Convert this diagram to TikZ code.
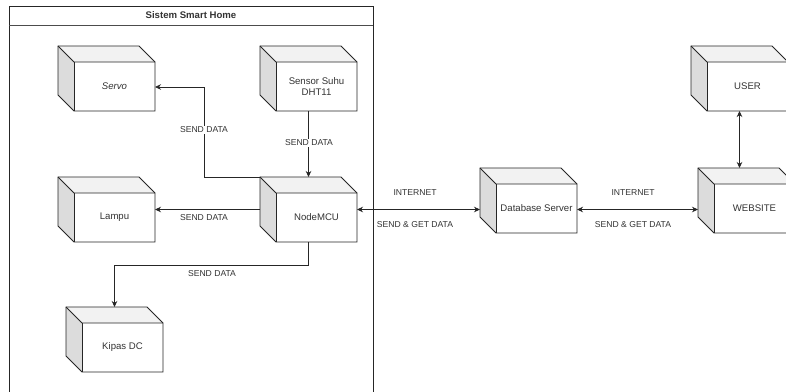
\documentclass[tikz,border=0pt]{standalone}
\usepackage{fontspec}
\setmainfont{Liberation Sans}
\usetikzlibrary{arrows.meta,calc}
\definecolor{txt}{HTML}{333333}
\definecolor{lft}{HTML}{DCDCDC}
\definecolor{tp}{HTML}{F2F2F2}
\tikzset{
  cubebb/.style={rectangle,minimum width=97pt,minimum height=65pt,inner sep=0pt,outer sep=0pt,draw=none},
  boxtxt/.style={text=txt,font=\fontsize{9.6}{11.5}\selectfont,align=center,inner sep=1pt},
  lbl/.style={text=txt,font=\fontsize{8.6}{10}\selectfont,inner sep=1pt},
  lblbg/.style={lbl,fill=white},
  conn/.style={line width=0.8pt,draw=black!85,-{Stealth[length=6pt,width=5.5pt]}},
  conn2/.style={line width=0.8pt,draw=black!85,{Stealth[length=6pt,width=5.5pt]}-{Stealth[length=6pt,width=5.5pt]}},
  cubeline/.style={line width=0.8pt,draw=black!85,line join=miter},
}
\newcommand\cubebox[4]{%
  \node[cubebb] (#1) at (#2+48.5,#3+32.5) {};
  \fill[white] (#2+16,#3+16) rectangle (#2+97,#3+65);
  \fill[tp] (#2,#3) -- (#2+81,#3) -- (#2+97,#3+16) -- (#2+16,#3+16) -- cycle;
  \fill[lft] (#2,#3) -- (#2+16,#3+16) -- (#2+16,#3+65) -- (#2,#3+49) -- cycle;
  \draw[cubeline] (#2,#3) -- (#2+81,#3) -- (#2+97,#3+16) -- (#2+97,#3+65) -- (#2+16,#3+65) -- (#2,#3+49) -- cycle;
  \draw[cubeline] (#2,#3) -- (#2+16,#3+16) -- (#2+97,#3+16);
  \draw[cubeline] (#2+16,#3+16) -- (#2+16,#3+65);
  \node[boxtxt] (#1-t) at (#2+56.5,#3+40.5) {#4};
}
\begin{document}
\begin{tikzpicture}[x=1pt,y=-1pt]
\useasboundingbox (0,0) rectangle (786,391);
\clip (0,0) rectangle (786,391);
\fill[white] (0,0) rectangle (786,391);
% container
\draw[line width=0.8pt,draw=black!85] (9,6) rectangle (373,420);
\draw[line width=0.8pt,draw=black!70] (9,25) -- (373,25);
\node[text=txt,font=\bfseries\fontsize{9.6}{11.5}\selectfont] (title) at (191,15.5) {Sistem Smart Home};
% cubes
\cubebox{servo}{58}{46}{\itshape Servo}
\cubebox{sensor}{260}{46}{Sensor Suhu\\DHT11}
\cubebox{lampu}{58}{177}{Lampu}
\cubebox{node}{260}{177}{NodeMCU}
\cubebox{kipas}{66}{307}{Kipas DC}
\cubebox{db}{480}{168}{Database Server}
\cubebox{web}{698}{168}{WEBSITE}
\cubebox{user}{691}{46}{USER}
\coordinate (servoE) at (155,87);
% connectors
\draw[conn] (sensor.south) -- (node.north);
\draw[conn] (node.north west) -- ++(-56,0) |- (servoE);
\draw[conn] (node.west) -- (lampu.east);
\draw[conn] (node.south) -- ++(0,23) -| (kipas.north);
\draw[conn2] (node.east) -- (node.east -| db.west);
\draw[conn2] (db.east |- node.east) -- (web.west |- node.east);
\draw[conn2] (user.south) -- (user.south |- web.north);
% labels
\node[lblbg] (l1) at (309,143) {SEND DATA};
\node[lblbg] (l2) at (204,130) {SEND DATA};
\node[lbl] (l3) at (204,217.5) {SEND DATA};
\node[lbl] (l4) at (212,274) {SEND DATA};
\node[lbl] (l5) at (415,193) {INTERNET};
\node[lbl] (l6) at (415,225) {SEND \& GET DATA};
\node[lbl] (l7) at (633,193) {INTERNET};
\node[lbl] (l8) at (633,225) {SEND \& GET DATA};
\end{tikzpicture}
\end{document}
